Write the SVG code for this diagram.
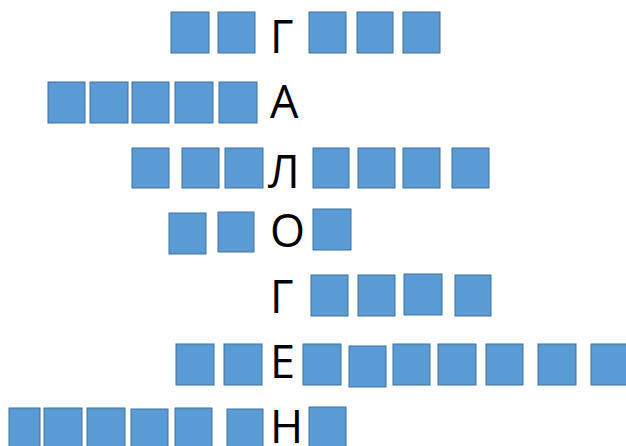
<svg xmlns="http://www.w3.org/2000/svg" width="626" height="446" viewBox="0 0 626 446">
<style>
rect{fill:#5B9BD5;stroke:#41719C;stroke-width:1}
text{font-family:"Open Sans","Liberation Sans",sans-serif;font-size:45px;fill:#000}
</style>
<rect x="0" y="0" width="626" height="446" fill="#fff" style="fill:#fff;stroke:none"/>
<g id="row1">
<rect x="171" y="12" width="38" height="41"/>
<rect x="218" y="12" width="37" height="41"/>
<text x="270" y="53">Г</text>
<rect x="309" y="12" width="37" height="41"/>
<rect x="357" y="12" width="36" height="41"/>
<rect x="403" y="12" width="37" height="41"/>
</g>
<g id="row2">
<rect x="48" y="82" width="37" height="41"/>
<rect x="90" y="82" width="38" height="41"/>
<rect x="132" y="82" width="37" height="41"/>
<rect x="175" y="82" width="38" height="41"/>
<rect x="219" y="82" width="38" height="41"/>
<text x="270" y="118">А</text>
</g>
<g id="row3">
<rect x="132" y="148" width="37" height="40"/>
<rect x="182" y="148" width="37" height="40"/>
<rect x="225" y="148" width="38" height="40"/>
<text x="268" y="188">Л</text>
<rect x="313" y="148" width="36" height="40"/>
<rect x="358" y="148" width="37" height="40"/>
<rect x="403" y="148" width="37" height="40"/>
<rect x="452" y="148" width="37" height="40"/>
</g>
<g id="row4">
<rect x="169" y="213" width="37" height="41"/>
<rect x="218" y="212" width="36" height="40"/>
<text x="270" y="247">О</text>
<rect x="313" y="209" width="38" height="41"/>
</g>
<g id="row5">
<text x="270" y="313">Г</text>
<rect x="311" y="275" width="37" height="41"/>
<rect x="358" y="275" width="37" height="41"/>
<rect x="404" y="274" width="38" height="41"/>
<rect x="455" y="275" width="36" height="41"/>
</g>
<g id="row6">
<rect x="176" y="344" width="38" height="41"/>
<rect x="224" y="344" width="38" height="41"/>
<text x="270" y="378">Е</text>
<rect x="303" y="344" width="38" height="41"/>
<rect x="349" y="346" width="37" height="41"/>
<rect x="393" y="344" width="37" height="41"/>
<rect x="438" y="344" width="38" height="41"/>
<rect x="486" y="344" width="37" height="41"/>
<rect x="538" y="344" width="38" height="41"/>
<rect x="591" y="344" width="38" height="41"/>
</g>
<g id="row7">
<rect x="9" y="408" width="31" height="42"/>
<rect x="44" y="408" width="38" height="42"/>
<rect x="87" y="408" width="38" height="42"/>
<rect x="131" y="409" width="37" height="42"/>
<rect x="175" y="408" width="37" height="42"/>
<rect x="227" y="409" width="36" height="42"/>
<text x="270" y="443">Н</text>
<rect x="309" y="407" width="37" height="42"/>
</g>
</svg>
